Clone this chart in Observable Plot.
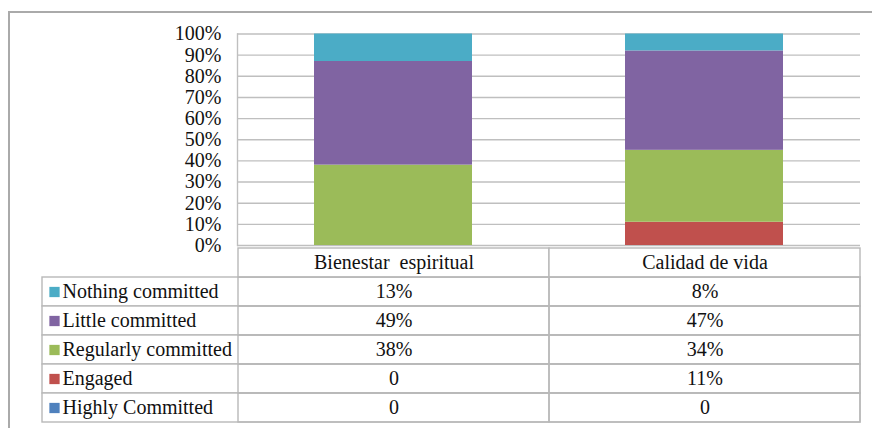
<!DOCTYPE html>
<html><head><meta charset="utf-8">
<script src="https://cdn.jsdelivr.net/npm/d3@7"></script>
<script src="https://cdn.jsdelivr.net/npm/@observablehq/plot@0.6"></script>
<style>
body{margin:0;background:#fff;}
#wrap{position:relative;width:872px;height:428px;overflow:hidden;font-family:"Liberation Serif",serif;background:#fff;}
#frame{position:absolute;left:8px;top:10.5px;width:950px;height:600px;border:2px solid #aaaaaa;box-sizing:border-box;}
#chart,#table{position:absolute;left:0;}
#chart{top:0;}
#table{top:245px;}
#wrap svg{overflow:visible;}
#wrap svg, #wrap svg text{font-family:"Liberation Serif","Times New Roman",serif !important;fill-opacity:1;}
#wrap svg text{fill:#111;}
</style></head><body>
<div id="wrap"><div id="frame"></div><div id="chart"></div><div id="table"></div></div>
<script>
// Categories (columns) and series (table rows, top to bottom)
const categories = ["Bienestar  espiritual", "Calidad de vida"];
const series = ["Nothing committed", "Little committed", "Regularly committed", "Engaged", "Highly Committed"];
const colors = ["#4BACC6", "#8064A2", "#9BBB59", "#C0504D", "#4F81BD"];
// Percent values per series, in the same order as `series`
const bienestarValues = [13, 49, 38, 0, 0];
const calidadValues = [8, 47, 34, 11, 0];
const yTicks = [0, 10, 20, 30, 40, 50, 60, 70, 80, 90, 100];

const valuesByCategory = [bienestarValues, calidadValues];
const rows = [];
series.forEach((s, i) => categories.forEach((c, j) => rows.push({series: s, category: c, value: valuesByCategory[j][i]})));
// stack bottom-to-top: last series at the bottom
const stackRows = series.slice().reverse().flatMap(s => rows.filter(r => r.series === s));

const font = "Liberation Serif";

const chart = Plot.plot({
  width: 872, height: 246,
  marginLeft: 237, marginRight: 12, marginTop: 33.5, marginBottom: 1,
  x: {domain: categories, paddingInner: 0.493, paddingOuter: 0.2465, axis: null},
  y: {domain: [0, 100], axis: null},
  color: {domain: series, range: colors},
  style: {fontFamily: font, fontSize: "20px", color: "#111", background: "transparent"},
  marks: [
    Plot.ruleY(yTicks, {stroke: "#bfbfbf", strokeWidth: 1.4}),
    Plot.barY(stackRows, {x: "category", y: "value", fill: "series"}),
    Plot.frame({anchor: "left", stroke: "#bfbfbf", strokeWidth: 1.4}),
    Plot.axisY({ticks: yTicks, tickSize: 0, tickPadding: 16, tickFormat: d => d + "%", label: null, fontSize: 20, fontFamily: font})
  ]
});
document.getElementById("chart").append(chart);

const tableRows = ["header", ...series];
const headerCells = categories.map(c => ({category: c}));
const table = Plot.plot({
  width: 872, height: 183,
  marginLeft: 42, marginRight: 12, marginTop: 0, marginBottom: 4,
  x: {domain: categories, range: [237, 860], padding: 0, axis: null},
  y: {domain: tableRows, padding: 0, axis: null},
  color: {domain: series, range: colors},
  style: {fontFamily: font, fontSize: "20px", color: "#111", background: "transparent", whiteSpace: "pre"},
  marks: [
    Plot.cell(series, {y: d => d, fill: "white", stroke: "#b8b8b8", strokeWidth: 1.4}),
    Plot.cell(headerCells, {x: "category", y: () => "header", fill: "white", stroke: "#b8b8b8", strokeWidth: 1.4}),
    Plot.cell(rows, {x: "category", y: "series", fill: "none", stroke: "#b8b8b8", strokeWidth: 1.4}),
    Plot.text(headerCells, {x: "category", y: () => "header", text: "category", fontSize: 20, fontFamily: font}),
    Plot.text(rows, {x: "category", y: "series", text: d => d.value === 0 ? "0" : d.value + "%", fontSize: 20, fontFamily: font}),
    Plot.dot(series, {y: d => d, frameAnchor: "left", dx: 12, symbol: "square", r: 5.8, fill: d => d, stroke: null}),
    Plot.text(series, {y: d => d, frameAnchor: "left", dx: 20, textAnchor: "start", text: d => d, fontSize: 20, fontFamily: font})
  ]
});
document.getElementById("table").append(table);
</script>
</body></html>
